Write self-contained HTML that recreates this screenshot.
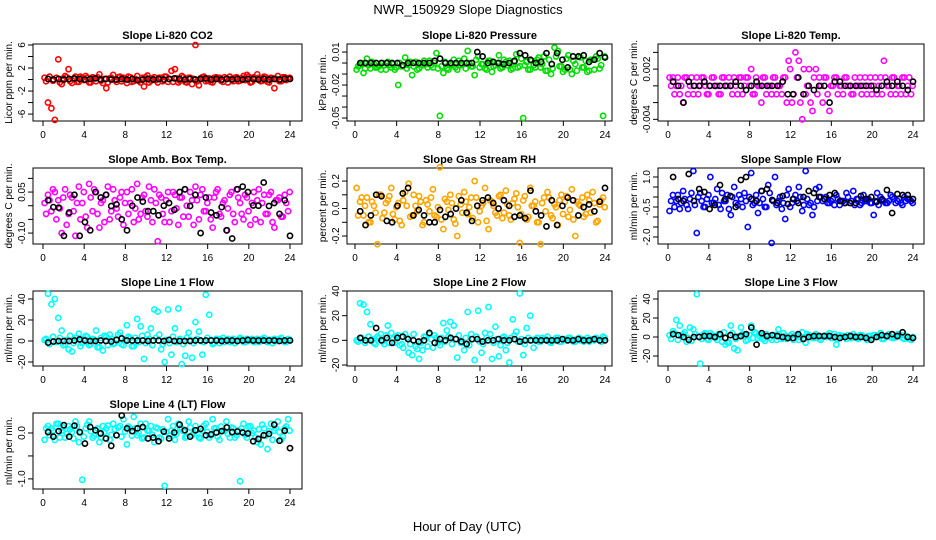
<!DOCTYPE html>
<html><head><meta charset="utf-8"><title>NWR_150929 Slope Diagnostics</title>
<style>
html,body{margin:0;padding:0;background:#fff;}
svg{display:block;font-family:"Liberation Sans",Arial,sans-serif;}
</style></head>
<body>
<svg id="chart" width="936" height="540" viewBox="0 0 936 540">
<text x="468" y="14" text-anchor="middle" font-size="13">NWR_150929  Slope Diagnostics</text>
<text x="467" y="531" text-anchor="middle" font-size="13">Hour of Day (UTC)</text>
</svg>
<script>
// ---- data (colored = all slopes, black = selected) ----
const xTicks = [0,4,8,12,16,20,24];
const titles = ["Slope Li-820 CO2","Slope Li-820 Pressure","Slope Li-820 Temp.","Slope Amb. Box Temp.","Slope Gas Stream RH","Slope Sample Flow","Slope Line 1 Flow","Slope Line 2 Flow","Slope Line 3 Flow","Slope Line 4 (LT) Flow"];
const yLabels = ["Licor ppm per min.","kPa per min.","degrees C per min.","degrees C per min.","percent per min.","ml/min per min.","ml/min per min.","ml/min per min.","ml/min per min.","ml/min per min."];
const colors = ["#ff0000","#00dd00","#ff00ff","#ff00ff","#ffa500","#0000ff","#00ffff","#00ffff","#00ffff","#00ffff"];
const yTicks1=[6,4,2,0,-2,-4,-6], yTickLabels1=["6","","2","","-2","","-6"];
const yTicks2=[0.01,0,-0.01,-0.02,-0.03,-0.04,-0.05], yTickLabels2=["0.01","","","-0.02","","","-0.05"];
const yTicks3=[0.004,0.002,0,-0.002,-0.004], yTickLabels3=["","0.002","","","-0.004"];
const yTicks4=[0.1,0.05,0,-0.05,-0.1], yTickLabels4=["","0.05","","","-0.10"];
const yTicks5=[0.2,0.1,0,-0.1,-0.2], yTickLabels5=["0.2","","0.0","","-0.2"];
const yTicks6=[1,0.5,0,-0.5,-1,-1.5,-2], yTickLabels6=["1.0","","","-0.5","","","-2.0"];
const yTicks7=[40,20,0,-20], yTickLabels7=["40","20","0","-20"];
const yTicks8=[40,20,0,-20], yTickLabels8=["40","20","0","-20"];
const yTicks9=[40,20,0,-20], yTickLabels9=["40","20","0","-20"];
const yTicks10=[0,-0.5,-1], yTickLabels10=["0.0","","-1.0"];

const col1=[0.3,-4,-5,-7,3.5,-0.8,0.6,1.8,-0.6,0.5,-0.4,0.3,0.6,-0.5,0.4,-0.3,0.9,-0.6,-1.5,0.2,0.8,-0.4,0.5,0.3,-0.6,0.4,-0.3,0.6,-0.5,-1.2,0.7,-0.2,0.4,-0.5,0.3,0.5,-0.4,1.5,1.8,-0.5,0.6,-0.4,0.3,-0.8,6,-1,0.4,-0.3,0.2,-0.5,0.4,0.3,-0.4,0.2,0.5,-0.3,0.4,-0.2,0.6,0.8,-0.5,0.4,0.9,-0.3,0.5,-0.4,0.3,-1.5,0.6,-0.3,0.4,0.2];
const col1b=[-0.3,0.5,-0.2,0.3,-0.5,0.2,0.4,-0.3,0.1,-0.4,0.5,-0.1,0.3,-0.5,0.2,0.4,-0.2,0.1,-0.5,0.3,-0.1,0.4,-0.3,0.2,0.5,-0.4,0.1,-0.2,0.3,0.4,-0.5,0.2,-0.1,0.3,-0.3,0.5,0.1,-0.4,0.2,-0.2,0.4,-0.5,0.3,0.1,-0.3,0.2,0.5,-0.1,-0.4,0.3,0.2,-0.2,0.4,-0.5,0.1,0.3,-0.3,0.2,-0.1,0.5,-0.4,0.1,0.3,-0.2,0.4,-0.5,0.2,0.1,-0.3,0.4,-0.1,0.3];
const blk1=[0.1,0,0.1,0,0.1,0.2,0.1,0,0.1,0.2,0,0.1,0,0,0.1,0,0.1,-0.1,0,0.1,0,0.1,0,0.1,0.2,0.1,0,0.1,0,0.1,0.2,0,0.1,0,0.1,0,0.1,0,0.1,0.1,0,0.1,0,0.1,0,0.1,0.1];
const col2=[-0.006,-0.002,-0.009,0.004,-0.005,-0.001,-0.004,-0.006,-0.002,0.001,-0.004,-0.006,-0.02,-0.003,0.005,-0.002,-0.011,0.001,-0.005,-0.002,-0.001,0.002,-0.004,0.009,-0.048,-0.009,-0.005,-0.001,0.003,-0.006,-0.002,0.004,0.011,-0.003,-0.011,0.006,-0.001,-0.005,0.002,-0.008,-0.002,0.007,-0.004,0.001,0.002,-0.005,0.008,-0.003,-0.05,0.001,-0.006,-0.002,0.003,-0.004,0.006,-0.007,-0.01,0.014,0.011,-0.003,-0.006,0.007,-0.01,-0.001,0.006,-0.004,0.002,-0.007,0.003,0.006,-0.005,-0.048];
const col2b=[-0.003,0,-0.005,-0.002,0.001,-0.004,-0.003,0,-0.006,-0.002,-0.001,-0.004,0,-0.002,-0.005,0.001,-0.003,-0.006,-0.001,0.002,-0.004,-0.002,0,-0.005,-0.003,0.001,-0.006,-0.002,-0.004,0.002,-0.001,-0.005,0,-0.003,0.003,-0.004,-0.001,-0.006,0.002,-0.003,0,-0.005,0.003,-0.002,-0.006,0.001,-0.004,0.004,-0.002,-0.006,0.002,-0.004,0.005,-0.001,-0.007,0.003,-0.005,0.006,-0.003,-0.008,0.004,-0.006,0.002,-0.007,0.005,-0.004,-0.008,0.003,-0.006,0.004,-0.002,0.006];
const blk2=[0,0,0,0,0,0,0,0,-0.002,0,0,0,0,0,0.002,0.004,0,0,0,0,0,0,0.01,0.006,0,0.001,0,-0.001,0,0.002,0.009,0.007,0.003,0,0.001,0.009,-0.001,0.009,0.003,-0.004,0.006,0.006,0.007,0.001,0.003,0.009,0.005];
const col3=[0.001,0.001,0,-0.001,-0.002,0.001,0,-0.001,0.001,0,0.001,-0.001,0,0.001,0,-0.001,0.001,0,0,0.001,-0.001,0.001,0,0.001,0.002,-0.001,0,-0.002,0.001,0,-0.001,0.001,0,-0.001,0.001,0.003,-0.002,0.004,0.003,-0.004,-0.001,0.002,-0.003,0.002,0.001,-0.002,0.001,-0.003,0,0.001,0,-0.001,0.001,0,-0.001,0,0.001,0,-0.001,0.001,0,-0.001,0.001,0.003,0,-0.001,0.001,0,-0.001,0.001,0,-0.001];
const col3b=[0,-0.001,0.001,0,0.001,-0.001,0.001,0,-0.001,0.001,0,-0.001,0.001,0,-0.001,0.001,0,0.001,-0.001,0,0.001,-0.001,0.001,0,-0.001,0.001,0,0.001,-0.001,0,0.001,-0.001,0,0.001,-0.002,0.002,-0.001,0.001,-0.002,0.002,0,-0.002,0.001,-0.001,0,0.001,-0.001,0,0.001,-0.001,0,0.001,0,-0.001,0.001,0,-0.001,0.001,0,-0.001,0.001,0,-0.001,0.001,0,0.001,-0.001,0,0.001,-0.001,0.001,0];
const blk3=[0.0005,0,-0.002,0.0005,0,0,0.0005,0,0,0,0,0,0.0005,0,-0.0005,0,0.0005,0,0,0,0,0.0005,-0.001,-0.001,0.001,-0.001,0,-0.0005,0,0,-0.002,0.0005,0.0005,0,0,0,0,0,0,-0.0005,0,0.0005,0,0.0005,0,-0.0005,0.0005];
const col4=[0.01,0.04,-0.02,0.05,0.02,-0.1,0.06,-0.03,0.03,-0.11,0.07,0.01,-0.04,0.08,-0.02,0.05,-0.08,0.02,0.04,-0.05,0.06,-0.01,0.03,-0.07,0.05,0.01,-0.06,0.08,-0.03,0.04,-0.04,0.02,0.06,-0.13,0.03,-0.06,0.05,-0.02,0.04,-0.07,0.03,0.06,-0.04,0.02,0.07,-0.05,0.06,-0.02,0.03,-0.08,0.05,-0.03,0.01,-0.09,0.04,-0.03,0.06,0.01,-0.05,0.03,-0.07,0.05,0.02,-0.06,0.04,-0.03,0.05,-0.08,0.02,-0.04,0.04,-0.02];
const col4b=[-0.03,0.02,0.06,-0.05,-0.01,0.03,-0.07,0.04,-0.02,0.01,-0.05,0.05,-0.08,0.03,0.06,-0.03,0.01,-0.06,0.07,-0.02,0.02,-0.04,0.05,0.01,-0.03,0.06,-0.01,-0.05,0.03,-0.02,0.07,-0.06,0.01,0.04,-0.03,0.02,-0.06,0.05,-0.01,0.03,-0.04,0,0.05,-0.07,0.02,0.04,-0.02,0.01,-0.05,0.03,0.06,-0.04,0.02,-0.01,0.05,-0.06,0.03,-0.03,0.04,-0.02,0.01,-0.05,0.06,0.01,-0.03,0.04,-0.06,0.02,0.03,-0.04,0.01,0.05];
const blk4=[0.02,-0.005,-0.007,-0.11,-0.025,0.04,-0.11,-0.06,-0.09,0.05,0.03,0.04,-0.001,0.005,-0.05,-0.09,0.0,0.03,0.015,-0.02,-0.02,-0.035,0,0.01,-0.015,0.05,0.06,-0.001,0.04,-0.1,0.03,-0.025,-0.035,-0.005,-0.09,-0.12,0.06,0.07,0.05,0.001,0,0.085,-0.001,0.01,-0.03,0.02,-0.11];
const col5=[0.15,0.05,-0.05,0.08,-0.1,0.02,-0.26,0.1,-0.03,0.06,0.15,-0.08,0.04,-0.12,0.12,0.18,-0.05,0.02,0.09,-0.12,0.06,-0.02,0.14,-0.06,0.3,-0.15,0.05,0.1,-0.08,-0.2,0.03,0.12,-0.04,0.08,0.2,-0.1,0.02,0.15,-0.15,0.05,-0.03,0.09,-0.07,0.13,-0.05,0.04,0.11,-0.25,0.06,-0.08,0.15,0.02,-0.1,-0.26,0.08,0.12,-0.05,0.03,-0.12,0.1,0.05,-0.06,0.14,-0.2,0.03,0.08,-0.04,0.06,0.12,-0.1,0.03,0.08];
const col5b=[-0.05,0.08,0.02,-0.1,0.05,-0.03,0.1,-0.07,0.04,0.09,-0.04,0.01,-0.09,0.06,0.02,-0.06,0.1,-0.02,0.05,-0.1,0.03,0.08,-0.05,0.01,-0.08,0.07,-0.01,0.04,-0.11,0.09,-0.03,0.05,0.01,-0.07,0.08,-0.02,0.04,-0.09,0.06,0.02,-0.05,0.1,-0.03,0.03,-0.08,0.07,0.01,-0.04,0.09,-0.06,0.02,0.05,-0.1,0.04,-0.02,0.08,-0.07,0.01,0.06,-0.04,0.09,-0.01,-0.08,0.05,0.02,-0.06,0.1,-0.03,0.04,-0.09,0.06,0.01];
const blk5=[-0.02,-0.12,-0.05,0.1,0.09,-0.09,-0.1,0.02,0.11,0.15,-0.05,-0.01,-0.05,-0.1,-0.1,-0.01,-0.06,-0.04,0,0.06,-0.03,-0.09,0.02,0.06,0.08,0.04,0,0.06,0.02,-0.06,-0.05,-0.07,0.13,-0.02,-0.05,-0.13,0.06,-0.12,0.02,0.08,0.06,-0.05,0.01,0.03,-0.02,0.05,0.15];
const col6=[-0.7,0.1,-0.2,-0.6,0.3,-0.4,-0.1,1.3,-1.8,0.2,-0.5,-0.1,1.0,-0.3,0.4,-0.6,-0.2,0.1,-0.9,0.5,-0.4,-0.1,0.2,-1.5,1.2,-0.3,-0.8,0.3,-0.5,0.6,-2.3,1.0,-0.2,-0.6,-1.1,0.4,-0.3,0.1,0.5,-0.7,1.3,-0.4,-0.9,0.4,0.5,-0.2,0,-0.3,-0.1,0.1,-0.4,-0.2,0.2,-0.3,0.3,-0.1,-0.4,0.1,-0.2,-0.3,-0.9,0.2,0,-0.2,-0.3,0.1,-0.1,-0.2,-0.3,0,-0.1,-0.2];
const col6b=[-0.2,-0.5,0.1,-0.3,-0.1,-0.6,0.2,-0.4,0,-0.2,-0.5,0.1,-0.3,-0.1,-0.4,0.2,-0.2,-0.6,0,-0.3,0.1,-0.5,-0.2,0,-0.4,0.1,-0.3,-0.1,-0.5,0.2,-0.2,-0.4,0,-0.3,0.1,-0.5,-0.1,-0.2,0,-0.4,-0.1,-0.3,-0.5,-0.2,0,-0.1,-0.3,-0.2,-0.4,-0.1,-0.2,-0.3,0,-0.2,-0.4,-0.1,-0.3,-0.2,-0.1,-0.3,-0.2,-0.4,-0.1,-0.3,-0.2,0,-0.3,-0.1,-0.4,-0.2,-0.1,-0.3];
const blk6=[1.0,-0.1,-0.2,1.15,-0.2,0.4,0.25,-0.6,-0.4,0.6,-0.1,0.05,-0.5,0.85,1.0,-0.1,-0.2,0.3,0.4,-0.15,-0.3,0.05,-0.35,-0.1,-0.3,0,0.3,0.2,0,-0.1,0.1,0.2,-0.2,-0.3,-0.3,-0.3,0.05,-0.1,0,-0.25,-0.15,0.35,-0.8,0.15,0.1,0.1,-0.1];
const col7=[1,45,35,40,22,10,-3,-8,-10,3,7,-2,5,-4,2,10,-6,-9,4,6,-3,2,8,-4,15,3,-5,21,14,-17,6,12,30,28,-8,-20,30,-13,12,31,-22,-14,8,-16,18,9,-13,44,25,-3,2,-2,3,1,-1,2,0,3,-1,2,1,-1,2,0,3,-1,1,2,0,3,-1,2];
const col7b=[2,-3,4,-1,3,-4,1,5,-2,3,-5,2,4,-3,1,-6,3,5,-4,2,-2,6,-3,1,4,-5,3,-1,5,-2,2,-4,3,6,-3,1,-2,4,-1,2,-3,3,1,-2,2,0,-1,3,1,-2,2,1,-1,2,0,-2,1,2,-1,0,2,1,-1,2,0,1,-2,1,2,0,-1,1];
const blk7=[-1.5,-0.5,0,0,0,0.5,1.5,0.5,0,0,0.5,0,-0.5,1,2.5,0.5,0.5,0.5,0.5,0,0.5,0.5,0,1,0,0,0,0,0.5,0.5,0.5,0.5,0.5,0,0.5,0.5,0,0.5,1,0.5,0.5,0.5,0.5,0.5,0,0.5,0.5];
const col8=[0,30,29,23,13,-2,3,5,-3,12,6,-2,4,-3,5,-10,-12,-5,-15,-8,3,5,-6,2,-4,14,8,15,12,-14,-2,-8,23,5,-16,24,-10,6,27,-15,11,-13,2,-8,-18,17,7,38,-12,10,20,-6,2,-1,1,3,-2,0,2,-1,1,2,0,-1,2,1,0,-1,1,2,0,3];
const col8b=[-1,2,-2,3,1,-3,2,-1,4,-2,1,3,-4,-6,2,-3,5,-7,-2,3,-5,1,4,-2,2,-1,3,-3,1,4,-2,2,-4,1,3,-1,-3,2,5,-2,1,-4,3,-2,2,4,-1,1,-3,2,0,1,-1,2,1,-1,0,2,-1,1,0,2,-1,1,0,-1,2,1,0,1,-1,2];
const blk8=[2,0,0,10,0,2,-2,2,3,1,0,-1,0,6,-2,1,0,2,1,-1,-3,1,1,-1,0,0,1,0,0,1,-1,0,0,0,0,0,0,0,1,0,0,1,0,0,1,0,0];
const col9=[2,6,18,12,3,-5,10,8,45,-28,3,-2,4,1,-3,2,5,-6,12,-12,-14,10,3,-3,12,5,-1,2,-4,1,-3,2,8,-2,1,-1,3,2,-3,5,-6,2,-1,3,-2,1,0,4,-1,-8,2,1,-2,0,3,-1,2,0,-3,1,2,0,4,-2,1,0,-1,3,2,-2,0,-3];
const col9b=[-2,4,-3,2,5,-1,-4,3,1,-2,4,-3,2,-1,3,-5,-8,-6,4,-2,1,3,-4,2,-1,4,1,-2,3,-1,2,-3,1,4,-2,1,-3,2,0,-2,3,1,-1,2,-3,1,2,-1,3,-2,1,0,2,-1,1,-2,2,0,1,-1,2,1,-2,1,3,-1,0,2,-1,1,-2,0];
const blk9=[3,2,0,-3,0,0,1,1,0,3,-1,2,0,1,3,10,-8,4,1,2,1,0,-1,-1,3,-2,0,1,1,1,1,0,-1,0,1,0,0,-1,-3,0,2,1,3,1,5,0,-1];
const col10=[-0.15,0.15,0.1,-0.15,0.2,0.05,-0.1,0.15,0.02,0.25,-0.2,-1.02,0.1,0.25,-0.1,0.05,-0.2,0.15,0.1,-0.15,0.2,-0.05,0.15,0.3,-0.25,0.1,0.35,-0.05,0.2,-0.1,0.05,0.15,-0.2,0.1,-0.12,-1.15,0.3,0.05,-0.15,0.2,0.1,-0.1,0.25,-0.05,0.15,-0.1,0.05,0.2,-0.1,0.3,0.1,-0.15,0.05,0.25,-0.1,0.1,-0.05,-1.05,0.2,-0.1,0.15,0.05,-0.2,-0.25,0.1,-0.35,0.2,0.05,0.25,-0.15,0.1,0.3];
const col10b=[0.1,-0.05,0.05,0.2,-0.1,0.12,-0.02,0.08,-0.12,0.15,0,-0.08,0.18,0.04,-0.06,0.1,-0.1,0.02,0.16,-0.04,0.08,0.12,-0.08,0.03,0.14,-0.06,0.1,0,-0.12,0.2,0.05,-0.04,0.12,-0.1,0.08,0.02,-0.06,0.15,-0.02,0.1,0.04,-0.08,0.12,0,0.06,-0.12,0.16,0.02,-0.05,0.1,-0.08,0.14,0.04,-0.02,0.12,-0.1,0.06,0.1,-0.04,0.14,0,-0.1,0.08,0.18,-0.06,0.04,-0.15,0.1,0.02,-0.08,0.14,0.05];
const blk10=[0.02,-0.08,0.04,0.17,-0.08,0.16,0.02,-0.23,0.13,0.06,-0.01,-0.12,-0.28,-0.05,0.38,0.1,0.04,0.1,0.13,-0.12,-0.1,-0.18,0.03,-0.12,0.01,0.18,0.06,-0.08,0.06,0.09,-0.05,-0.03,0.01,0.04,0.12,0.02,0.03,0.01,-0.01,-0.18,-0.13,-0.05,-0.02,0.18,-0.17,0.05,-0.33];
const colSeries=[col1,col2,col3,col4,col5,col6,col7,col8,col9,col10];
const colSeriesB=[col1b,col2b,col3b,col4b,col5b,col6b,col7b,col8b,col9b,col10b];
const blkSeries=[blk1,blk2,blk3,blk4,blk5,blk6,blk7,blk8,blk9,blk10];
const yTickSets=[yTicks1,yTicks2,yTicks3,yTicks4,yTicks5,yTicks6,yTicks7,yTicks8,yTicks9,yTicks10];
const yTickLabelSets=[yTickLabels1,yTickLabels2,yTickLabels3,yTickLabels4,yTickLabels5,yTickLabels6,yTickLabels7,yTickLabels8,yTickLabels9,yTickLabels10];
const yDomains=[[-7.2,6.17],[-0.0527,0.0173],[-0.0042,0.005],[-0.14,0.138],[-0.258,0.295],[-2.35,1.45],[-23.8,47.6],[-20.8,40],[-30.5,48.4],[-1.22,0.435]];

// ---- layout ----
const colBoxes=[[33,302,43,290],[347,612,355,605],[658,924,668,913]];
const rowBoxes=[[44,121],[168,244],[291,366],[413,489]];
const NS="http://www.w3.org/2000/svg";
const svg=document.getElementById('chart');
function mk(tag,attrs,parent){const e=document.createElementNS(NS,tag);for(const k in attrs)e.setAttribute(k,attrs[k]);(parent||svg).appendChild(e);return e;}

for(let p=0;p<10;p++){
  const c=colBoxes[p%3], r=rowBoxes[Math.floor(p/3)];
  const [bl,br,x0,x24]=c, [bt,bb]=r;
  const [ymin,ymax]=yDomains[p];
  const xs=h=>x0+(x24-x0)*h/24;
  const ys=v=>bb-(v-ymin)/(ymax-ymin)*(bb-bt);
  const g=mk('g',{});
  
  
  const t=mk('text',{x:(bl+br)/2,y:bt-5,'text-anchor':'middle','font-size':'11','font-weight':'bold'},g);
  t.textContent=titles[p];
  
  
  const box=mk('rect',{x:bl,y:bt,width:br-bl,height:bb-bt,fill:'none',stroke:'#000','stroke-width':1},g);
  
  
  xTicks.forEach(h=>{
    mk('line',{x1:xs(h),x2:xs(h),y1:bb,y2:bb+5,stroke:'#000'},g);
    const tl=mk('text',{x:xs(h),y:bb+17,'text-anchor':'middle','font-size':'10'},g);
    tl.textContent=h;
    
    
  });
  const yt=yTickSets[p], yl=yTickLabelSets[p];
  yt.forEach((v,i)=>{
    const y=ys(v);
    mk('line',{x1:bl-5,x2:bl,y1:y,y2:y,stroke:'#000'},g);
    if(yl[i]!==""){
      const tl=mk('text',{x:bl-8,y:y,'text-anchor':'middle','font-size':'10',transform:`rotate(-90 ${bl-8} ${y})`},g);
      tl.textContent=yl[i];
      
      
    }
  });
  const ylab=mk('text',{x:bl-21,y:(bt+bb)/2,'text-anchor':'middle','font-size':'10',transform:`rotate(-90 ${bl-21} ${(bt+bb)/2})`},g);
  ylab.textContent=yLabels[p];
  
  
  const csb=colSeriesB[p];
  csb.forEach((v,i)=>{
    const h=i*24/csb.length+0.3;
    const pt=mk('circle',{cx:xs(h),cy:ys(v),r:2.6,fill:'none',stroke:colors[p],'stroke-width':1.6},g);
    
    
  });
  const cs=colSeries[p];
  cs.forEach((v,i)=>{
    const h=i*24/cs.length+0.15;
    const pt=mk('circle',{cx:xs(h),cy:ys(v),r:2.6,fill:'none',stroke:colors[p],'stroke-width':1.6},g);
    
    
  });
  const bs=blkSeries[p];
  bs.forEach((v,i)=>{
    const h=0.5+i*23.5/(bs.length-1);
    const pt=mk('circle',{cx:xs(h),cy:ys(v),r:2.6,fill:'none',stroke:'#000','stroke-width':1.6},g);
    
    
  });
}
</script>
</body></html>
